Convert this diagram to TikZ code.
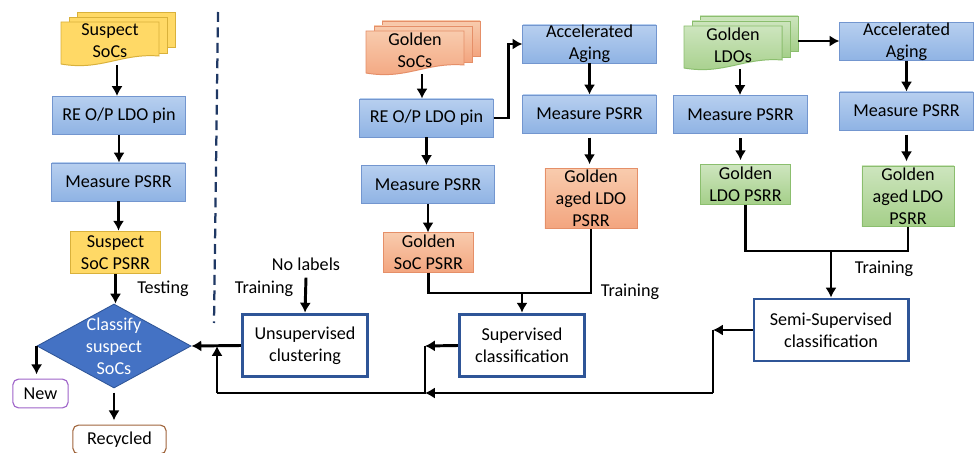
\documentclass[tikz,border=0pt]{standalone}
\usepackage{fontspec}
\setmainfont{Carlito}
\usetikzlibrary{arrows.meta, shapes.geometric, calc}

\definecolor{suspectfill}{HTML}{FFD966}
\definecolor{suspectline}{HTML}{D9B13B}
\definecolor{bluetop}{HTML}{B7CFEF}
\definecolor{bluebot}{HTML}{8FB3E4}
\definecolor{blueline}{HTML}{7396CF}
\definecolor{orangetop}{HTML}{F8CBAD}
\definecolor{orangebot}{HTML}{F3A57F}
\definecolor{orangeline}{HTML}{E58F68}
\definecolor{greentop}{HTML}{CDE5BE}
\definecolor{greenbot}{HTML}{A5CF89}
\definecolor{greenline}{HTML}{8BBE6E}
\definecolor{classblue}{HTML}{4472C4}
\definecolor{classline}{HTML}{2F5597}
\definecolor{newline}{HTML}{9E63C9}
\definecolor{recline}{HTML}{A0653C}
\definecolor{divline}{HTML}{1F3864}

\tikzset{
  susfill/.style  = {fill=suspectfill, draw=suspectline, line width=0.7pt},
  goldfill/.style = {top color=orangetop, bottom color=orangebot,
                     draw=orangeline, line width=0.7pt},
  ldofill/.style  = {top color=greentop, bottom color=greenbot,
                     draw=greenline, line width=0.7pt},
  procbox/.style  = {shape=rectangle, align=center, inner sep=0pt,
                     minimum width=3.33cm, minimum height=0.95cm,
                     top color=bluetop, bottom color=bluebot,
                     draw=blueline, line width=0.7pt},
  databox/.style  = {shape=rectangle, align=center, inner sep=0pt,
                     minimum width=2.23cm, minimum height=0.98cm},
  learner/.style  = {shape=rectangle, align=center, inner sep=0pt,
                     draw=classline, line width=2.1pt, fill=white,
                     minimum height=1.57cm},
  decide/.style   = {shape=diamond, inner sep=0pt, fill=classblue,
                     draw=classline, line width=0.6pt,
                     minimum width=3.85cm, minimum height=2.1cm},
  outcome/.style  = {shape=rectangle, rounded corners=4pt, draw,
                     line width=0.8pt, fill=white, inner sep=0pt,
                     minimum height=0.72cm},
  doctext/.style  = {align=center, inner sep=0pt},
  lbl/.style      = {inner sep=0pt},
  flow/.style     = {draw, line width=2.1pt},
  arrow/.style    = {flow, -{Latex[length=7pt,width=8pt]}},
  gap/.style      = {shorten <=3pt, shorten >=3pt},
  divider/.style  = {draw=divline, line width=1.6pt, dash pattern=on 7pt off 4pt}
}

% stack of documents: name, x, y (front top left), fill style, text
\newcommand{\docstack}[5]{%
  \begin{scope}[shift={(#2,#3)}]
    \path[#4] (16,-10) rectangle (114,25);
    \path[#4] (8,-5) rectangle (106,31);
    \path[#4] (0,0) -- (98,0) -- (98,34)
      .. controls (60,31) and (40,49) .. (0,42) -- cycle;
    \node[doctext] (#1) at (49,19) {#5};
    \coordinate (#1-out) at (56,43);
    \coordinate (#1-side) at (114,15);
  \end{scope}}

\begin{document}
\begin{tikzpicture}
  [
  x = 0.025cm, y = -0.025cm,
  every node/.style = {font = \fontsize{12.9pt}{15.6pt}\selectfont}
  ]

\useasboundingbox (0,0) rectangle (974,453);

% testing side
\docstack{sus}{61}{22}{susfill}{Suspect\\SoCs}
\node[procbox] (re1) at (119,115.5) {RE O/P LDO pin};
\node[procbox] (mp1) at (118.5,182) {Measure PSRR};
\node[databox, susfill, minimum height=1.07cm] (spsrr) at (115.5,252.5) {Suspect\\SoC PSRR};
\node[decide] (classify) at (114,346) {};
\node[doctext, text=white] (classifytxt) at (classify) {Classify\\suspect\\SoCs};
\node[outcome, draw=newline, minimum width=1.38cm] (new) at (40.5,393.5) {New};
\node[outcome, draw=recline, minimum width=2.33cm] (recycled) at (119.5,439.5) {Recycled};
\node[lbl] (testing) at (163,289) {Testing};

\coordinate (divtop) at (218,12);
\coordinate (divbot) at (214,323);
\draw[divider] (divtop) -- (divbot);

% unsupervised
\node[learner, minimum width=3.13cm] (unsup) at (305,345.5) {Unsupervised\\clustering};
\node[lbl] (nolab) at (306,264) {No labels};
\node[lbl] (train1) at (264,289) {Training};

% supervised
\docstack{gsoc}{366}{31}{goldfill}{Golden\\SoCs}
\node[procbox] (re2) at (426.5,118) {RE O/P LDO pin};
\node[procbox] (mp2) at (428,184.5) {Measure PSRR};
\node[databox, goldfill] (gspsrr) at (428.5,252.5) {Golden\\SoC PSRR};
\node[procbox] (aa1) at (589.5,44) {Accelerated\\Aging};
\node[procbox] (mp3) at (589.5,114) {Measure PSRR};
\node[databox, goldfill, minimum width=2.3cm, minimum height=1.48cm] (gapsrr1) at (591,198.5) {Golden\\aged LDO\\PSRR};
\node[learner, minimum width=3.13cm] (sup) at (522,345.5) {Supervised\\classification};
\node[lbl] (train2) at (630,292) {Training};

% semi-supervised
\docstack{gldo}{684}{26}{ldofill}{Golden\\LDOs}
\node[procbox] (mp5) at (740.5,114.5) {Measure PSRR};
\node[databox, ldofill] (glpsrr) at (745.5,184.5) {Golden\\LDO PSRR};
\node[procbox] (aa2) at (906.5,41.5) {Accelerated\\Aging};
\node[procbox] (mp4) at (906.5,111) {Measure PSRR};
\node[databox, ldofill, minimum width=2.3cm, minimum height=1.5cm] (gapsrr2) at (908,196) {Golden\\aged LDO\\PSRR};
\node[learner, minimum width=3.85cm, minimum height=1.55cm] (semi) at (831,330) {Semi-Supervised\\classification};
\node[lbl] (train3) at (884,269) {Training};

% testing flow
\draw[arrow] (sus-out) -- (sus-out |- re1.north);
\draw[arrow] (re1.south) -- (re1.south |- mp1.north);
\draw[arrow] (mp1.south) -- (mp1.south |- spsrr.north);
\draw[arrow] (spsrr.south) -- (spsrr.south |- classify.north);
\draw[arrow, shorten >=3pt] (classify.west) -- (classify.west |- new.north);
\draw[arrow, gap] (classify.south) -- (classify.south |- recycled.north);
\draw[arrow] (nolab.south) ++(0,7) -- (unsup.north);
\draw[arrow] (unsup.west) -- (classify.east);

% golden SoC flow
\draw[arrow] (gsoc-out) -- (gsoc-out |- re2.north);
\draw[arrow] (re2.south) -- (re2.south |- mp2.north);
\draw[arrow] (mp2.south) -- (mp2.south |- gspsrr.north);
\draw[arrow] (re2.east) -- ++(15,0) |- (aa1.west);
\draw[arrow] (aa1.south) -- (aa1.south |- mp3.north);
\draw[arrow, gap] (mp3.south) -- (mp3.south |- gapsrr1.north);
\coordinate (supin) at (522,293);
\draw[flow] (gspsrr.south) |- (supin) -| (gapsrr1.south);
\draw[arrow] (supin) -- (sup.north);

% golden LDO flow
\draw[arrow] (gldo-out) -- (gldo-out |- mp5.north);
\draw[arrow] (gldo-side) -- (gldo-side -| aa2.west);
\draw[arrow] (aa2.south) -- (aa2.south |- mp4.north);
\draw[arrow, gap] (mp4.south) -- (mp4.south |- gapsrr2.north);
\draw[arrow, gap] (mp5.south) -- (mp5.south |- glpsrr.north);
\coordinate (semiin) at (831,251);
\draw[flow] (glpsrr.south) |- (semiin) -| (gapsrr2.south);
\draw[arrow] (semiin) -- (semi.north);

% models back to the classifier
\coordinate (fb1) at (713,330);
\coordinate (fb2) at (713,393);
\coordinate (fb3) at (425,393);
\coordinate (fb4) at (425,346);
\coordinate (fb5) at (217,393);
\coordinate (fb6) at (217,346);
\draw[arrow] (semi.west) -- (fb1);
\draw[flow] (fb1) -- (fb2);
\draw[arrow] (fb2) -- (fb3);
\draw[arrow] (sup.west) -- (fb4);
\draw[flow] (fb4) -- (fb3) -- (fb5);
\draw[arrow] (fb5) -- (fb6);

\end{tikzpicture}
\end{document}
